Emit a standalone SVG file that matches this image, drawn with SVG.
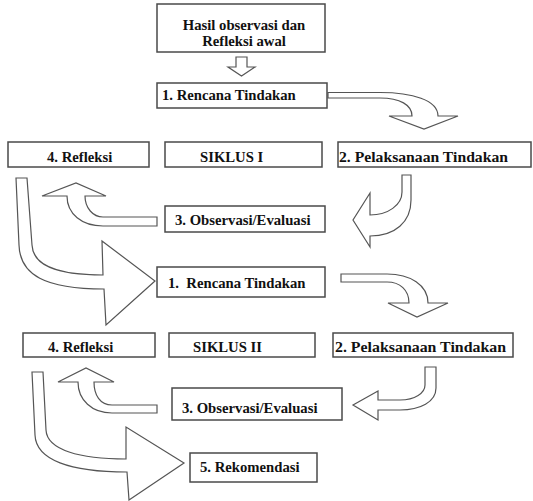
<svg xmlns="http://www.w3.org/2000/svg" width="533" height="501" viewBox="0 0 533 501">
<style>
.box{fill:#fff;stroke:#4a4a4a;stroke-width:1.5}
.arr{fill:#fff;stroke:#555;stroke-width:1.2;stroke-linejoin:miter}
.t{font-family:'Liberation Serif','Times New Roman',serif;font-weight:700;font-size:14.7px;fill:#111}
</style>
<rect width="533" height="501" fill="#fff"/>
<g id="connectors">
<path class="arr" d="M236,57 H247 V67 H255 L241.5,76 L228,67 H236 Z"/>
<path class="arr" d="M328,92.5 H380 C412,92.5 438,100 438,116 H458 L424,129 L389,116 H412 C412,105 400,98 380,98 H328 Z"/>
<path class="arr" d="M402,175 H411 V200 C411,222 395,236 370,236 V247 L353,220 L370,193 V215 C388,215 402,205 402,192 Z"/>
<path class="arr" d="M157,217 H103 C93,217 85,208 85,196 H106 L76,183 L42,196 H67 C67,214 82,226 103,226 H157 Z"/>
<path class="arr" d="M16,178 H27 L32,245 C33,265 55,275 103,275 L102,241 L155,281 L106,325 L104,289 C45,289 20,275 19,245 Z"/>
<path class="arr" d="M341,274 H387 C410,274 428,285 428,303 H448 L417,317 L388,303 H409 C409,290 400,282 387,282 H341 Z"/>
<path class="arr" d="M425,367 H436 V388 C436,402 420,410 400,410 H378 V420 L353,405 L378,391 V400 H400 C415,400 425,393 425,385 Z"/>
<path class="arr" d="M157,405 H112 C100,405 94,395 94,382 H114 L86,368 L58,382 H78 C78,400 92,413 112,413 H157 Z"/>
<path class="arr" d="M32,372 H43 L46,430 C47,450 80,459 126,459 L126,427 L184,463 L129,500 L127,472 C70,472 36,460 35,435 Z"/>
</g>
<g id="hasil"><rect class="box" x="157" y="4" width="168" height="48"/><text class="t" x="244" y="30" text-anchor="middle">Hasil observasi dan</text><text class="t" x="244" y="46" text-anchor="middle">Refleksi awal</text></g>
<g id="rencana1"><rect class="box" x="157" y="83" width="170" height="25"/><text class="t" x="162" y="100">1. Rencana Tindakan</text></g>
<g id="refleksi1"><rect class="box" x="8" y="142" width="141" height="25"/><text class="t" x="47" y="162">4. Refleksi</text></g>
<g id="siklus1"><rect class="box" x="165" y="142" width="157" height="25"/><text class="t" x="200" y="162">SIKLUS I</text></g>
<g id="pelaksanaan1"><rect class="box" x="338" y="142" width="193" height="25"/><text class="t" x="339" y="162" textLength="169" lengthAdjust="spacingAndGlyphs">2. Pelaksanaan Tindakan</text></g>
<g id="observasi1"><rect class="box" x="165" y="206" width="160" height="26"/><text class="t" x="175" y="225">3. Observasi/Evaluasi</text></g>
<g id="rencana2"><rect class="box" x="157" y="267" width="168" height="30"/><text class="t" x="168" y="288">1.&#160; Rencana Tindakan</text></g>
<g id="refleksi2"><rect class="box" x="23" y="333" width="132" height="24"/><text class="t" x="48" y="352">4. Refleksi</text></g>
<g id="siklus2"><rect class="box" x="169" y="333" width="146" height="24"/><text class="t" x="193" y="352">SIKLUS II</text></g>
<g id="pelaksanaan2"><rect class="box" x="333" y="333" width="180" height="24"/><text class="t" x="335" y="352" textLength="171" lengthAdjust="spacingAndGlyphs">2. Pelaksanaan Tindakan</text></g>
<g id="observasi2"><rect class="box" x="172" y="388" width="170" height="32"/><text class="t" x="182" y="413">3. Observasi/Evaluasi</text></g>
<g id="rekomendasi"><rect class="box" x="190" y="453" width="127" height="29"/><text class="t" x="200" y="472">5. Rekomendasi</text></g>
</svg>
